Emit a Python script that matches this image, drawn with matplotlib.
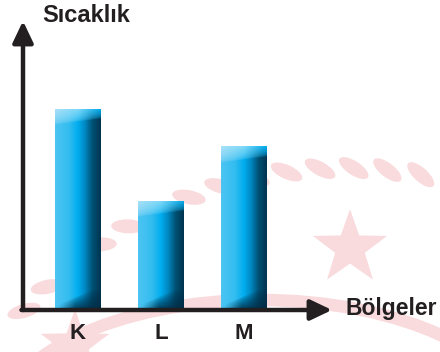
import numpy as np
import matplotlib.pyplot as plt
from matplotlib.patches import Ellipse

regions = ["K", "L", "M"]
temps = [40, 21.7, 32.6]
ylabel = "Sıcaklık"
xlabel = "Bölgeler"

INK = "#231f20"
W, H = 440, 352
plt.rcParams['font.family'] = ['Liberation Sans', 'DejaVu Sans']

fig = plt.figure(figsize=(W / 100, H / 100), dpi=100)

# faint pink emblem behind the chart (rope arc and stars)
bg = fig.add_axes([0, 0, 1, 1])
bg.set_xlim(0, W)
bg.set_ylim(H, 0)
bg.axis("off")
pink = "#f9dadd"
for a in np.arange(np.radians(222), np.radians(290), 0.078):
    cx, cy = 345 + 432 * np.cos(a), 600 + 432 * np.sin(a)
    bg.add_patch(Ellipse((cx, cy), 34, 14, angle=np.degrees(a) - 270 + 32,
                         color=pink, lw=0))


def star_xy(cx, cy, r):
    k = np.arange(10)
    rad = np.where(k % 2 == 0, r, r * 0.4)
    ang = np.pi / 2 + k * np.pi / 5
    return cx + rad * np.cos(ang), cy - rad * np.sin(ang)


bg.fill(*star_xy(350, 248, 39), color=pink, lw=0)
bg.fill(*star_xy(75, 345, 36), color=pink, lw=0)
bg.add_patch(Ellipse((260, 425), 520, 250, fill=False, ec=pink, lw=9))

# chart area in figure pixels: y axis at x=23, x axis at y=310
x_left, x_right = 23, 332
y_bot, y_top = 310, 21
ax = fig.add_axes([x_left / W, (H - y_bot) / H,
                   (x_right - x_left) / W, (y_bot - y_top) / H])
ax.patch.set_alpha(0)
spacing = 83
ymax = 57.5
for s in ax.spines.values():
    s.set_visible(False)
ax.set_xticks([])
ax.set_yticks([])

px_per_unit = (y_bot - y_top) / ymax
bar_w = 46 / spacing

stops_u = [0.0, 0.3, 0.5, 0.65, 0.82, 1.0]
stops_c = np.array([[0.30, 0.77, 0.95], [0.20, 0.74, 0.94], [0.0, 0.68, 0.94],
                    [0.0, 0.54, 0.77], [0.0, 0.32, 0.46], [0.0, 0.21, 0.32]])


def bar_image(h_px, w_px=46):
    u = np.linspace(0, 1, w_px)
    base = np.stack([np.interp(u, stops_u, stops_c[:, i]) for i in range(3)], -1)
    img = np.repeat(base[None, :, :], h_px, axis=0)
    d = np.arange(h_px)[:, None, None].astype(float)
    uu = u[None, :, None]
    # light cap at the top, reaching a little lower on the left
    top_col = np.stack([np.interp(u, [0, 0.5, 1], c) for c in
                        ([0.66, 0.50, 0.0], [0.88, 0.85, 0.68], [0.97, 0.97, 0.94])], -1)
    depth = 16 - 6 * uu
    wt = np.clip(1 - d / depth, 0, 1) ** 0.5
    img = img * (1 - wt) + top_col[None] * wt
    # dark shading along the foot, rising towards the right edge
    db = h_px - 1 - d
    reach = 4 + 16 * np.clip(uu * 1.2, 0, 1)
    wb = np.clip(1 - db / reach, 0, 1) ** 0.7 * np.clip((uu - 0.05) * 2.5, 0, 1)
    dark = np.array([0.0, 0.17, 0.27])
    img = img * (1 - 0.88 * wb) + dark * 0.88 * wb
    return np.clip(img, 0, 1)


bars = ax.bar(range(len(regions)), temps, width=bar_w, color="none", lw=0)
for b, v in zip(bars, temps):
    x0 = b.get_x()
    im = ax.imshow(bar_image(int(round(v * px_per_unit))), aspect="auto",
                   extent=(x0, x0 + bar_w, 0, v), origin="upper",
                   interpolation="bilinear", zorder=2)
    im.set_clip_path(b)
ax.set_xlim((x_left - 78) / spacing, (x_right - 78) / spacing)
ax.set_ylim(0, ymax)

arrow = dict(arrowstyle="-|>,head_length=1.3,head_width=0.62", lw=3.2,
             color=INK, shrinkA=0, shrinkB=0, mutation_scale=10)
ax.annotate("", xy=(0, 1), xytext=(0, 0), xycoords="axes fraction",
            arrowprops=arrow, annotation_clip=False)
ax.annotate("", xy=(1, 0), xytext=(-0.005, 0), xycoords="axes fraction",
            arrowprops=arrow, annotation_clip=False)

for i, r in enumerate(regions):
    ax.text(i, -0.08, r, transform=ax.get_xaxis_transform(), ha="center",
            va="center", fontsize=16, fontweight="bold", color=INK)

fig.text(42 / W, 1 - 16 / H, ylabel, ha="left", va="center", fontsize=17,
         fontweight="bold", color=INK)
fig.text(345 / W, 1 - 308 / H, xlabel, ha="left", va="center", fontsize=16.5,
         fontweight="bold", color=INK)

fig.savefig("out.png", dpi=100)
